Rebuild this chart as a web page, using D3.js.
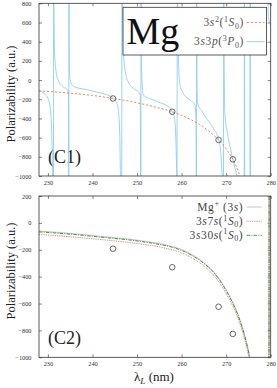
<!DOCTYPE html>
<html>
<head>
<meta charset="utf-8">
<script src="https://cdn.jsdelivr.net/npm/d3@7"></script>
<style>
    body { margin: 0; background: #fff; }
    svg text { font-family: "Liberation Serif", "DejaVu Serif", serif; }
    .tick text { font-size: 6.3px; fill: #333; }
    .tick line { stroke: #333; stroke-width: 0.6; }
</style>
</head>
<body>
<div id="chart"></div>
<script>
// ---- data ----
const xTicks = [230, 240, 250, 260, 270, 280];
const yTicksTop = [-1000, -800, -600, -400, -200, 0, 200, 400, 600, 800];
const yTicksBottom = [-1000, -800, -600, -400, -200, 0, 200];

// (C1) ground state 3s2(1S0), wavelength nm / polarizability a.u.
const groundState = [
    [228, -112], [232, -125], [236, -142], [240, -160], [244.6, -192], [248, -218],
    [252, -258], [255, -292], [257.9, -330], [260, -368], [262.3, -418], [264, -462],
    [266, -528], [268.3, -624], [270, -718], [271.5, -826], [272.5, -925], [273.1, -1005],
    [273.6, -1100]
];

// (C1) clock state 3s3p(3P0); null splits the line
const clockState = [
    [228, -112], [229.3, -145], [230, -190], [230.5, -277], [230.8, -485], [231.0, -833], [231.05, -1100],
    [231.25, -1100], [231.28, 900], [231.45, 350], [231.7, 139], [232.3, 0], [233.4, -69], [234.4, -103],
    [234.6, -160], [234.68, -1100],
    [234.72, 900], [234.8, 250], [234.9, 18], [235.6, -61], [237, -85], [239, -103], [241, -125],
    [242.7, -145], [244.6, -190], [245.3, -230], [245.7, -277], [246.1, -520], [246.35, -1100],
    [246.57, -1100], [246.6, 900], [246.9, 350], [247.3, 110], [248, -17], [249.2, -86], [250.3, -121],
    [250.7, -145], [250.85, -1100],
    [250.9, 900], [251.0, 150], [251.4, -155], [253.3, -200], [255.5, -242], [257, -277], [257.9, -330],
    [258.4, -400], [258.7, -590], [258.9, -972], [258.95, -1100],
    [259.05, 900], [259.3, 210], [259.6, -35], [260.4, -138], [261.9, -207], [263, -260], [263.25, -450],
    [263.32, -1100],
    [263.38, 900], [263.45, 0], [263.6, -245], [264.5, -320], [265.6, -400], [267.1, -500], [268.3, -624],
    [268.8, -760], [269.1, -1000], [269.2, -1100],
    [269.4, -1100], [269.45, 900], [269.55, 200], [269.7, -330], [270.3, -560], [271, -720], [271.5, -826],
    [272, -920], [272.4, -1010], [272.6, -1100],
    [274.05, -1100], [274.1, 900], [274.18, -1100],
    [275.35, -1100], [275.4, 900], [275.48, -1100],
    [279.2, -1100], [279.25, null],
    [279.35, 900], [279.5, 650], [280, 570]
];

// (C2) Rydberg / ion core curves
const ionCore = [
    [228, -61], [232, -70], [236, -81], [240, -94], [244, -107], [248, -120], [251, -133],
    [254, -148], [257.5, -172], [260, -199], [262.5, -239], [265, -296], [267, -356],
    [269.5, -470], [271, -559], [272.5, -668], [274, -816], [275.1, -965], [275.5, -1035],
    [276, -1150], [279.6, -1150], [279.65, 300]
];
const rydberg7s = [
    [228, -86], [232, -95], [236, -106], [240, -118], [244, -131], [248, -145], [251, -158],
    [254, -173], [257.5, -197], [260, -224], [262.5, -264], [265, -322], [267, -382],
    [269.5, -497], [271, -586], [272.5, -697], [274, -848], [275, -985], [275.3, -1040],
    [276, -1150], [279.6, -1150], [279.65, 300]
];
const rydberg30s = [
    [228, -67], [232, -76], [236, -87], [240, -100], [244, -113], [248, -126], [251, -139],
    [254, -154], [257.5, -178], [260, -205], [262.5, -245], [265, -302], [267, -362],
    [269.5, -476], [271, -565], [272.5, -674], [274, -822], [275.1, -971], [275.5, -1040],
    [276, -1150], [279.6, -1150], [279.65, 300]
];

// magic wavelengths (circles)
const magicLambda = [244.6, 257.9, 268.3, 271.5];
const magicAlpha = [-192, -330, -624, -826];

// ---- drawing ----
const width = 277, height = 388;
const svg = d3.select("#chart").append("svg")
    .attr("width", width)
    .attr("height", height)
    .style("display", "block");

const x = d3.scaleLinear().domain([228, 280]).range([39, 270.7]);
const yTop = d3.scaleLinear().domain([-1000, 800]).range([176, 3.3]);
const yBot = d3.scaleLinear().domain([-1000, 200]).range([357.3, 196]);

const fmt = d => d < 0 ? "\u2212" + Math.abs(d) : String(d);

// write text with italic / sup / sub pieces
function rich(text, parts, size) {
    let shift = 0;
    parts.forEach(([s, k]) => {
        let target = 0;
        if (k === "sup") target = -0.38 * size;
        if (k === "sub" || k === "subi") target = 0.22 * size;
        text.append("tspan")
            .attr("dy", target - shift)
            .attr("font-size", (k === "sup" || k === "sub" || k === "subi") ? size * 0.7 : size)
            .attr("font-style", (k === "i" || k === "subi") ? "italic" : null)
            .text(s);
        shift = target;
    });
}

function panel(y, yTicks, id, label, labelY) {
    let g = svg.append("g");
    let [y0, y1] = y.range();

    g.append("clipPath").attr("id", id)
        .append("rect")
        .attr("x", x(228)).attr("y", y1)
        .attr("width", x(280) - x(228)).attr("height", y0 - y1);

    g.append("g").attr("transform", `translate(0,${y0})`)
        .call(d3.axisBottom(x).tickValues(xTicks).tickSizeInner(-3).tickSizeOuter(0).tickPadding(4.6))
        .call(a => a.select(".domain").remove());
    g.append("g").attr("transform", `translate(0,${y1})`)
        .call(d3.axisTop(x).tickValues(xTicks).tickSizeInner(-3).tickSizeOuter(0).tickFormat(""))
        .call(a => a.select(".domain").remove());
    g.append("g").attr("transform", `translate(${x(228)},0)`)
        .call(d3.axisLeft(y).tickValues(yTicks).tickSizeInner(-3).tickSizeOuter(0).tickPadding(7.5).tickFormat(fmt))
        .call(a => a.select(".domain").remove());
    g.append("g").attr("transform", `translate(${x(280)},0)`)
        .call(d3.axisRight(y).tickValues(yTicks).tickSizeInner(-3).tickSizeOuter(0).tickFormat(""))
        .call(a => a.select(".domain").remove());

    // y label
    g.append("text")
        .attr("transform", `translate(14.5,${labelY}) rotate(-90)`)
        .attr("text-anchor", "middle")
        .attr("font-size", 12.5)
        .attr("fill", "#222")
        .text("Polarizability (a.u.)");

    // panel tag
    g.append("text")
        .attr("x", 48).attr("y", y0 - 13)
        .attr("font-size", 18)
        .attr("fill", "#222")
        .text(label);

    let plot = g.append("g").attr("clip-path", `url(#${id})`);
    return { g, plot };
}

function curve(y) {
    return d3.line()
        .defined(d => d[1] !== null)
        .x(d => x(d[0]))
        .y(d => y(d[1]))
        .curve(d3.curveMonotoneX);
}

function circles(sel, y) {
    sel.selectAll(".magic")
        .data(magicLambda.map((l, i) => [l, magicAlpha[i]]))
        .enter().append("circle")
        .attr("class", "magic")
        .attr("cx", d => x(d[0]))
        .attr("cy", d => y(d[1]))
        .attr("r", 2.8)
        .attr("fill", "none")
        .attr("stroke", "#444")
        .attr("stroke-width", 0.8);
}

function frame(g, y) {
    let [y0, y1] = y.range();
    g.append("rect")
        .attr("x", x(228)).attr("y", y1)
        .attr("width", x(280) - x(228)).attr("height", y0 - y1)
        .attr("fill", "none")
        .attr("stroke", "#333")
        .attr("stroke-width", 0.8);
}

const blue = "#8ccfee", orange = "#f47a45";
const grey = "#bdbdbd", red = "#e0646a", green = "#2f8a2f";
const legSize = 11.5;

// ---- (C1) ----
let topPanel = panel(yTop, yTicksTop, "clipTop", "(C1)", 94);
topPanel.plot.append("path")
    .attr("d", curve(yTop)(clockState))
    .attr("fill", "none").attr("stroke", blue).attr("stroke-width", 0.9);
topPanel.plot.append("path")
    .attr("d", curve(yTop)(groundState))
    .attr("fill", "none").attr("stroke", orange).attr("stroke-width", 0.9)
    .attr("stroke-dasharray", "2.2,1.8");
circles(topPanel.plot, yTop);

// legend box with "Mg"
let leg = topPanel.g.append("g");
leg.append("rect")
    .attr("x", 123).attr("y", 7.3).attr("width", 143.5).attr("height", 47.7)
    .attr("fill", "#fff").attr("stroke", "#333").attr("stroke-width", 0.8);
leg.append("text")
    .attr("x", 126.5).attr("y", 43.5)
    .attr("font-size", 38).attr("fill", "#111")
    .text("Mg");
let t1 = leg.append("text").attr("x", 244).attr("y", 26).attr("text-anchor", "end")
    .attr("fill", "#555").attr("letter-spacing", 0.6);
rich(t1, [["3", ""], ["s", "i"], ["2", "sup"], ["(", ""], ["1", "sup"], ["S", "i"], ["0", "sub"], [")", ""]], legSize);
let t2 = leg.append("text").attr("x", 244).attr("y", 45.3).attr("text-anchor", "end")
    .attr("fill", "#555").attr("letter-spacing", 0.6);
rich(t2, [["3", ""], ["s", "i"], ["3", ""], ["p", "i"], ["(", ""], ["3", "sup"], ["P", "i"], ["0", "sub"], [")", ""]], legSize);
leg.append("line").attr("x1", 246.7).attr("x2", 264.5).attr("y1", 22.5).attr("y2", 22.5)
    .attr("stroke", orange).attr("stroke-width", 0.9).attr("stroke-dasharray", "2.2,1.8");
leg.append("line").attr("x1", 246.7).attr("x2", 264.5).attr("y1", 41.7).attr("y2", 41.7)
    .attr("stroke", blue).attr("stroke-width", 0.9);
frame(topPanel.g, yTop);

// ---- (C2) ----
let botPanel = panel(yBot, yTicksBottom, "clipBot", "(C2)", 271);
botPanel.plot.append("path")
    .attr("d", curve(yBot)(ionCore))
    .attr("fill", "none").attr("stroke", grey).attr("stroke-width", 0.9);
botPanel.plot.append("path")
    .attr("d", curve(yBot)(rydberg7s))
    .attr("fill", "none").attr("stroke", red).attr("stroke-width", 0.9)
    .attr("stroke-dasharray", "0.9,0.9");
botPanel.plot.append("path")
    .attr("d", curve(yBot)(rydberg30s))
    .attr("fill", "none").attr("stroke", green).attr("stroke-width", 0.9)
    .attr("stroke-dasharray", "3.5,1.2,1,1.2");
circles(botPanel.plot, yBot);

let leg2 = botPanel.g.append("g");
let b1 = leg2.append("text").attr("x", 243.3).attr("y", 210.8).attr("text-anchor", "end")
    .attr("fill", "#444").attr("letter-spacing", 0.6);
rich(b1, [["Mg", ""], ["+", "sup"], [" (3", ""], ["s", "i"], [")", ""]], legSize);
let b2 = leg2.append("text").attr("x", 243.3).attr("y", 224.9).attr("text-anchor", "end")
    .attr("fill", "#444").attr("letter-spacing", 0.6);
rich(b2, [["3", ""], ["s", "i"], ["7", ""], ["s", "i"], ["(", ""], ["1", "sup"], ["S", "i"], ["0", "sub"], [")", ""]], legSize);
let b3 = leg2.append("text").attr("x", 243.3).attr("y", 238.8).attr("text-anchor", "end")
    .attr("fill", "#444").attr("letter-spacing", 0.6);
rich(b3, [["3", ""], ["s", "i"], ["30", ""], ["s", "i"], ["(", ""], ["1", "sup"], ["S", "i"], ["0", "sub"], [")", ""]], legSize);
leg2.append("line").attr("x1", 246.7).attr("x2", 261.7).attr("y1", 207).attr("y2", 207)
    .attr("stroke", grey).attr("stroke-width", 0.9);
leg2.append("line").attr("x1", 246.7).attr("x2", 261.7).attr("y1", 221.3).attr("y2", 221.3)
    .attr("stroke", red).attr("stroke-width", 0.9).attr("stroke-dasharray", "0.9,0.9");
leg2.append("line").attr("x1", 246.7).attr("x2", 261.7).attr("y1", 235.3).attr("y2", 235.3)
    .attr("stroke", green).attr("stroke-width", 0.9).attr("stroke-dasharray", "3.5,1.2,1,1.2");
frame(botPanel.g, yBot);

// x axis label
let xl = svg.append("text").attr("x", 154).attr("y", 381).attr("text-anchor", "middle").attr("fill", "#222");
rich(xl, [["\u03bb", ""], ["L", "subi"], [" (nm)", ""]], 13);
</script>
</body>
</html>
